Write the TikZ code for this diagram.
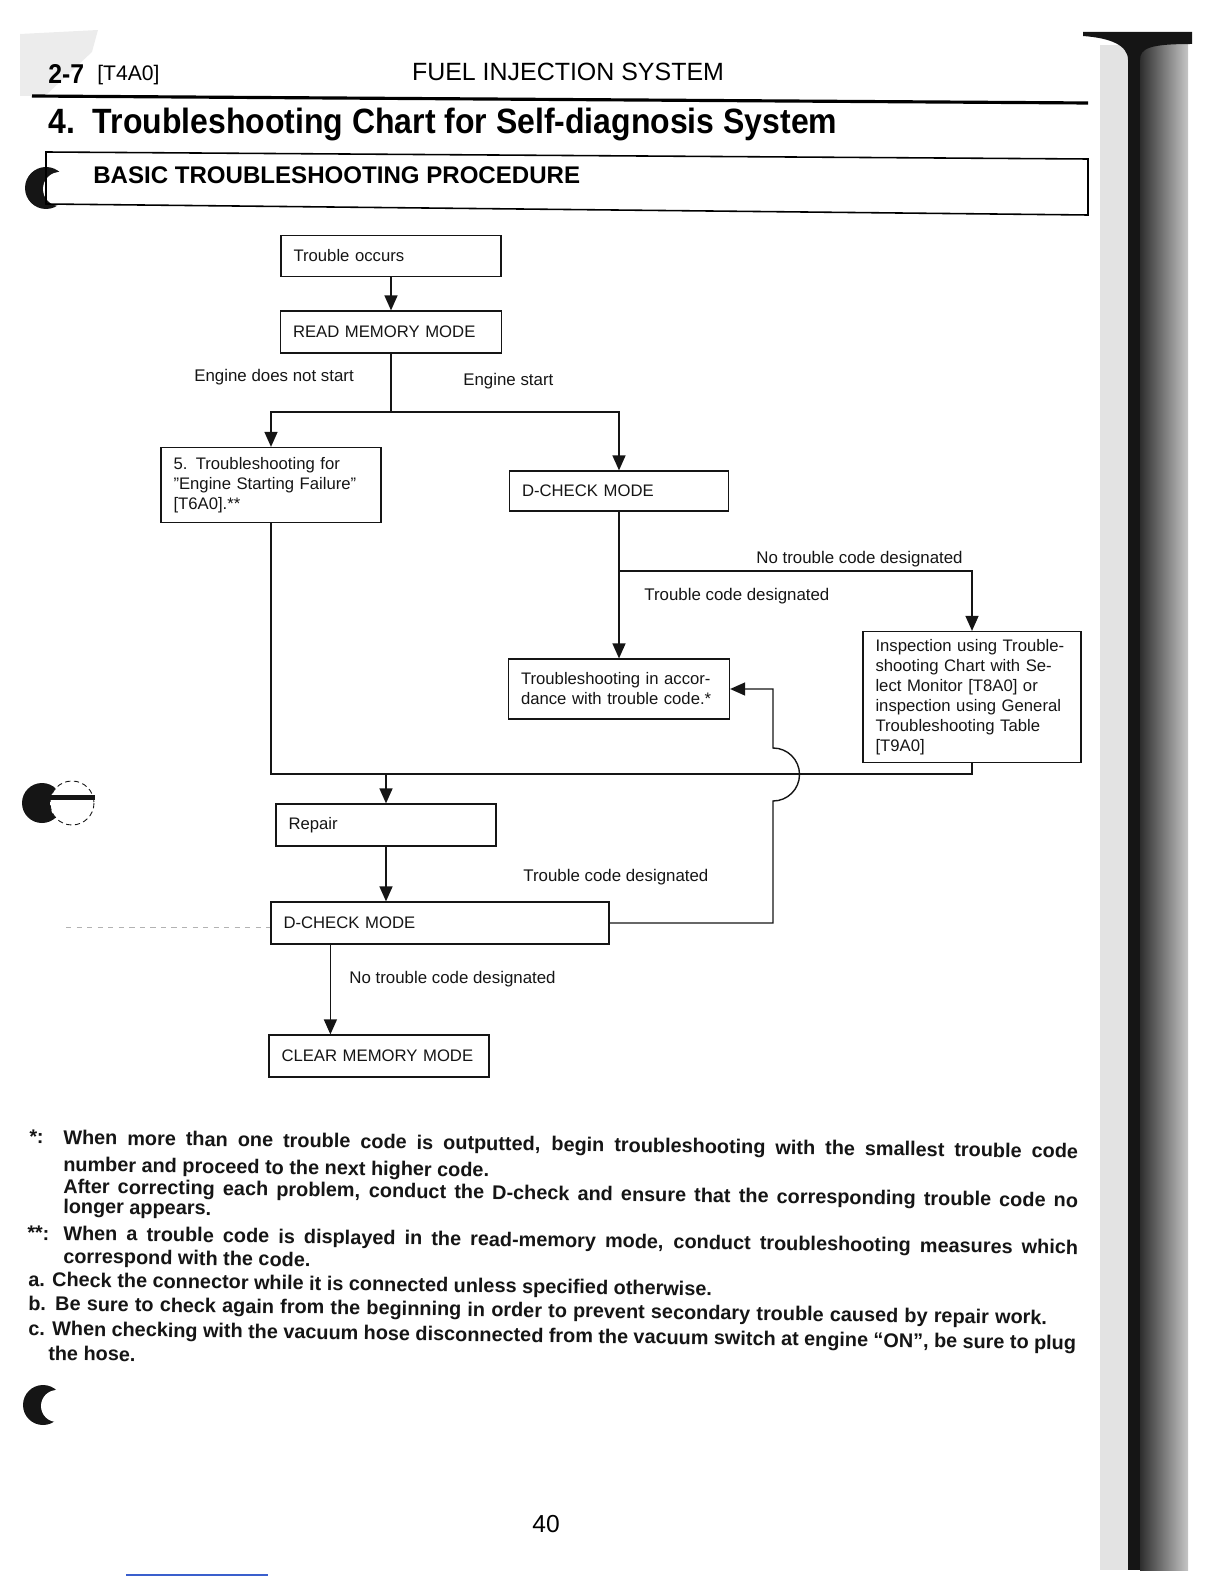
\documentclass[tikz,border=0pt]{standalone}
\usepackage{fontspec}
\setmainfont{Liberation Sans}
\newfontfamily\condfont{Liberation Sans}[FakeStretch=0.91]
\usetikzlibrary{arrows.meta, calc}
\definecolor{ScanInk}{HTML}{151515}
\definecolor{SpineGray}{HTML}{2E2E2E}
\definecolor{ScanBlue}{HTML}{3A5FCD}
% footnote line spread out to the printed measure
\newcommand{\fillline}[2]{\makebox[#1][s]{#2}}

\begin{document}
\begin{tikzpicture}[x=0.02cm, y=-0.02cm,
  procbox/.style={
    draw=ScanInk, line width=0.7pt, inner xsep=0.25cm, inner ysep=2pt,
    align=left, text=ScanInk, font=\fontsize{9.5}{11.4}\selectfont
  },
  lbl/.style={anchor=west, inner sep=0pt, text=ScanInk, font=\fontsize{9.6}{11}\selectfont},
  note/.style={anchor=west, inner sep=0pt, rotate=-0.8, text=ScanInk,
    font=\bfseries\fontsize{11.3}{13}\selectfont},
  link/.style={ScanInk, line width=0.8pt},
  arr/.style={-{Triangle[length=0.3cm, width=0.26cm]}, ScanInk, line width=0.8pt}
]
  \useasboundingbox (0,0) rectangle (1224,1584);
  % scan marks
  \fill[gray!15] (20,34) -- (98,30) -- (92,52) -- (45,96) -- (20,96) -- cycle;
  \draw[gray!60, dashed, line width=0.4pt] (66,927) -- (271,927);
  \draw[ScanBlue, line width=0.6pt] (126,1575) -- (268,1575);
  \fill[ScanInk] (46,188) circle (21);
  \fill[white] (60,189) circle (17);
  \fill[ScanInk] (42,803) circle (20);
  \fill[white] (72,803) circle (22);
  \draw[ScanInk, line width=0.5pt, densely dashed] (72,803) circle (22);
  \fill[ScanInk] (50,795) rectangle (95,800);
  \fill[ScanInk] (43,1405) circle (20);
  \fill[white] (57,1406) circle (16);
  \fill[gray!22] (1100,45) rectangle (1128,1570);
  \fill[ScanInk] (1128,45) rectangle (1140,1570);
  \shade[left color=SpineGray, right color=gray!45] (1140,45) rectangle (1188,1570);
  \fill[ScanInk] (1083,32) -- (1192,32) -- (1192,44) .. controls (1150,44) and (1140,48) .. (1140,60)
    -- (1128,60) .. controls (1128,45) and (1110,38) .. (1083,36) -- cycle;

  % page header
  \node[anchor=west, inner sep=0pt, font=\condfont\bfseries\fontsize{15.5}{18}\selectfont] (secno) at (48,74) {2-7};
  \node[anchor=west, inner sep=0pt, font=\fontsize{12}{14}\selectfont] (secref) at (97,75) {[T4A0]};
  \node[inner sep=0pt, font=\fontsize{14.2}{16}\selectfont] (runhead) at (568,72) {FUEL INJECTION SYSTEM};
  \draw[line width=1.8pt] (32,96) -- (1088,103);
  \node[anchor=west, inner sep=0pt, font=\condfont\bfseries\fontsize{20}{24}\selectfont] (title) at (48,124) {4.\ \ Troubleshooting Chart for Self-diagnosis System};
  \draw[line width=0.9pt] (46,152) -- (1088,159) -- (1088,215) -- (46,204) -- cycle;
  \node[anchor=west, inner sep=0pt, font=\bfseries\fontsize{13.7}{16}\selectfont] (procname) at (93,175) {BASIC TROUBLESHOOTING PROCEDURE};

  % chart boxes
  \node[procbox, text width=3.9cm, minimum height=0.82cm] (occurs) at (391,256) {Trouble occurs};
  \node[procbox, text width=3.92cm, minimum height=0.84cm] (readmem) at (391,332) {READ MEMORY MODE};
  \node[procbox, text width=3.9cm, minimum height=1.5cm] (fivebox) at (271,485) {5. Troubleshooting for\\"Engine Starting Failure"\\{[T6A0]}.**};
  \node[procbox, text width=3.88cm, minimum height=0.8cm] (dcheck1) at (619,491) {D-CHECK MODE};
  \node[procbox, text width=3.92cm, minimum height=1.2cm] (bycode) at (619,689) {Troubleshooting in accor-\\dance with trouble code.*};
  \node[procbox, text width=3.86cm, minimum height=2.62cm] (inspect) at (972,697) {Inspection using Trouble-\\shooting Chart with Se-\\lect Monitor [T8A0] or\\inspection using General\\Troubleshooting Table\\{[T9A0]}};
  \node[procbox, text width=3.9cm, minimum height=0.84cm] (repair) at (386,825) {Repair};
  \node[procbox, text width=6.26cm, minimum height=0.84cm] (dcheck2) at (440,923) {D-CHECK MODE};
  \node[procbox, text width=3.9cm, minimum height=0.84cm] (clearmem) at (379,1056) {CLEAR MEMORY MODE};

  % branch labels
  \node[lbl] (nostart) at (194,377) {Engine does not start};
  \node[lbl] (start) at (463,381) {Engine start};
  \node[lbl] (nocode1) at (756,559) {No trouble code designated};
  \node[lbl] (code1) at (644,596) {Trouble code designated};
  \node[lbl] (code2) at (523,877) {Trouble code designated};
  \node[lbl] (nocode2) at (349,979) {No trouble code designated};

  % connectors
  \coordinate (split1) at (391,412);
  \coordinate (split2) at (619,571);
  \coordinate (merge) at (386,774);
  \coordinate (loopfoot) at (773,923);
  \draw[arr] (occurs.south) -- (readmem.north);
  \draw[link] (readmem.south) -- (split1);
  \draw[arr] (split1) -| (fivebox.north);
  \draw[arr] (split1) -| (dcheck1.north);
  \draw[link] (dcheck1.south) -- (split2);
  \draw[arr] (split2) -- (bycode.north);
  \draw[arr] (split2) -| (inspect.north);
  \draw[link] (fivebox.south) |- (merge);
  \draw[link] (inspect.south) |- (merge);
  \draw[arr] (merge) -- (repair.north);
  \draw[arr] (repair.south) -- (repair.south |- dcheck2.north);
  \coordinate (d2out) at ([xshift=1.2cm]dcheck2.south west);
  \draw[arr] (d2out) -- (d2out |- clearmem.north);
  \draw[arr] (dcheck2.east) -- (loopfoot) -- (773,801) arc[start angle=90, end angle=-90, radius=26.5]
    -- (bycode.east -| loopfoot) -- (bycode.east);

  % footnotes
  \node[note] (fn1mark) at (29,1137) {*:};
  \node[note] (fn1a) at (63,1139) {\fillline{20.3cm}{When more than one trouble code is outputted, begin troubleshooting with the smallest trouble code}};
  \node[note] (fn1b) at (63,1166) {number and proceed to the next higher code.};
  \node[note] (fn1c) at (63,1188) {\fillline{20.3cm}{After correcting each problem, conduct the D-check and ensure that the corresponding trouble code no}};
  \node[note] (fn1d) at (63,1208) {longer appears.};
  \node[note] (fn2mark) at (27,1233) {**:};
  \node[note] (fn2a) at (63,1235) {\fillline{20.3cm}{When a trouble code is displayed in the read-memory mode, conduct troubleshooting measures which}};
  \node[note] (fn2b) at (63,1258) {correspond with the code.};
  \node[note] (fna) at (28,1281) {a. Check the connector while it is connected unless specified otherwise.};
  \node[note] (fnb) at (28,1305) {\fillline{20.38cm}{b. Be sure to check again from the beginning in order to prevent secondary trouble caused by repair work.}};
  \node[note] (fnc) at (28,1330) {\fillline{20.96cm}{c. When checking with the vacuum hose disconnected from the vacuum switch at engine ``ON'', be sure to plug}};
  \node[note] (fnd) at (48,1353) {the hose.};

  \node[font=\fontsize{14}{16}\selectfont] (pageno) at (546,1524) {40};
\end{tikzpicture}
\end{document}
